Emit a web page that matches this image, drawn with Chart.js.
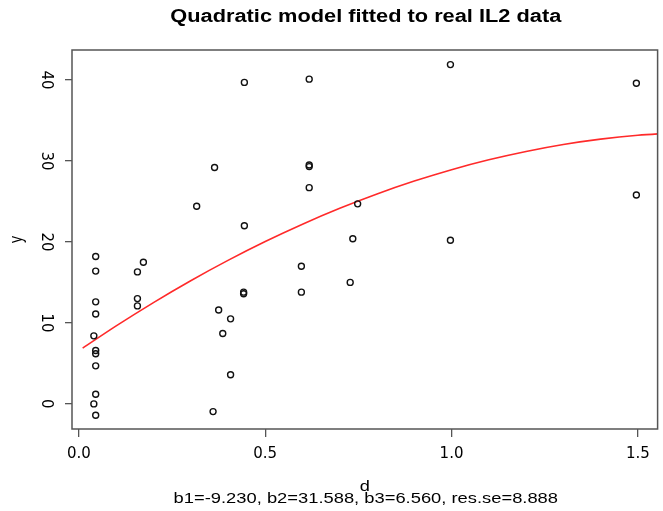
<!DOCTYPE html>
<html>
<head>
<meta charset="utf-8">
<script src="https://cdn.jsdelivr.net/npm/chart.js@4.4.1/dist/chart.umd.min.js"></script>
<style>
  html, body { margin: 0; padding: 0; background: #ffffff; }
  canvas { display: block; }
</style>
</head>
<body>
<canvas id="il2Chart" width="663" height="511"></canvas>
<script>
// Data -------------------------------------------------------------------------
var doseValues = [
    0.045, 0.045, 0.045, 0.045, 0.04, 0.045, 0.045, 0.045, 0.045, 0.04, 0.045,
    0.157, 0.173, 0.157, 0.157,
    0.316, 0.36, 0.364, 0.375, 0.386, 0.407, 0.407,
    0.442, 0.442, 0.444, 0.444,
    0.597, 0.597, 0.618, 0.618, 0.618, 0.618,
    0.728, 0.735, 0.748,
    0.997, 0.997, 1.496, 1.496
];
var responseValues = [
    18.2, 16.4, 12.6, 11.1, 8.4, 6.6, 6.2, 4.7, 1.2, 0.0, -1.4,
    16.3, 17.5, 13.0, 12.1,
    24.4, -0.95, 29.2, 11.6, 8.7, 10.5, 3.6,
    13.6, 13.8, 39.7, 22.0,
    17.0, 13.8, 40.1, 29.3, 29.5, 26.7,
    15.0, 20.4, 24.7,
    41.9, 20.2, 39.6, 25.8
];
// fitted curve
var fitDose     = [0.01, 0.1, 0.2, 0.3, 0.4, 0.5, 0.6, 0.7, 0.8, 0.9, 1.0, 1.1, 1.2, 1.3, 1.4, 1.5, 1.6];
var fitResponse = [6.88, 9.63, 12.51, 15.21, 17.72, 20.05, 22.19, 24.15, 25.92, 27.51, 28.92, 30.14, 31.17, 32.03, 32.69, 33.17, 33.47];

var xTickValues = [0, 0.5, 1, 1.5];
var yTickValues = [0, 10, 20, 30, 40];

var chartTitle = 'Quadratic model fitted to real IL2 data';
var xAxisLabel = 'd';
var yAxisLabel = 'y';
var fitSummary = 'b1=-9.230, b2=31.588, b3=6.560, res.se=8.888';

// Build datasets ---------------------------------------------------------------
var scatterPoints = doseValues.map(function (d, i) { return { x: d, y: responseValues[i] }; });
var fitPoints = fitDose.map(function (d, i) { return { x: d, y: fitResponse[i] }; });

var axisGrey = '#555555';
var textFont = '"Liberation Sans", Arial, sans-serif';

// draw text stretched sideways (the original picture is wide)
function wideText(ctx, text, cx, cy, font, stretch, rotate) {
    ctx.save();
    ctx.font = font;
    ctx.fillStyle = '#000';
    ctx.textAlign = 'center';
    ctx.textBaseline = 'middle';
    ctx.translate(cx, cy);
    ctx.scale(stretch, 1);
    if (rotate) ctx.rotate(-Math.PI / 2);
    ctx.fillText(text, 0, 0);
    ctx.restore();
}

var rStylePlugin = {
    id: 'rStyle',
    afterDraw: function (chart) {
        var ctx = chart.ctx;
        var area = chart.chartArea;
        var midX = (area.left + area.right) / 2;

        // box round the plot
        ctx.save();
        ctx.strokeStyle = axisGrey;
        ctx.lineWidth = 1.5;
        ctx.strokeRect(area.left, area.top, area.right - area.left, area.bottom - area.top);
        ctx.restore();

        wideText(ctx, chartTitle, midX + 1, 17, 'bold 18px ' + textFont, 1.21);
        wideText(ctx, xAxisLabel, midX, 487, '14px ' + textFont, 1.3);
        wideText(ctx, fitSummary, midX + 1, 499, '14px ' + textFont, 1.31);
        wideText(ctx, yAxisLabel, 17, (area.top + area.bottom) / 2, '14px ' + textFont, 1.3, true);
    }
};

var il2Canvas = document.getElementById('il2Chart');

if (il2Canvas) {
    var chart = new Chart(il2Canvas, {
        type: 'scatter',
        data: {
            datasets: [{
                label: 'observed',
                data: scatterPoints,
                pointStyle: 'circle',
                pointRadius: 3,
                pointBorderWidth: 1.4,
                pointBorderColor: '#111111',
                pointBackgroundColor: 'rgba(0,0,0,0)',
                showLine: false
            }, {
                label: 'quadratic fit',
                data: fitPoints,
                showLine: true,
                pointRadius: 0,
                borderColor: '#ff2a2a',
                borderWidth: 1.6,
                cubicInterpolationMode: 'monotone',
                fill: false
            }]
        },
        options: {
            responsive: false,
            devicePixelRatio: 1,
            animation: false,
            layout: { padding: { top: 50, right: 1, left: 0, bottom: 0 } },
            plugins: {
                legend: { display: false },
                tooltip: { enabled: false },
                title: { display: false }
            },
            scales: {
                x: {
                    type: 'linear',
                    min: -0.0186,
                    max: 1.553,
                    afterBuildTicks: function (scale) {
                        scale.ticks = xTickValues.map(function (v) { return { value: v }; });
                    },
                    afterFit: function (scale) { scale.height = 82; },
                    grid: {
                        display: true,
                        drawOnChartArea: false,
                        drawTicks: true,
                        tickLength: 8,
                        color: axisGrey,
                        lineWidth: 1.3
                    },
                    border: { display: false },
                    ticks: {
                        padding: 8,
                        color: '#000',
                        maxRotation: 0,
                        autoSkip: false,
                        font: { family: '"DejaVu Sans"', size: 15 },
                        callback: function (v) { return v.toFixed(1); }
                    }
                },
                y: {
                    type: 'linear',
                    min: -3.1,
                    max: 43.7,
                    afterBuildTicks: function (scale) {
                        scale.ticks = yTickValues.map(function (v) { return { value: v }; });
                    },
                    afterFit: function (scale) { scale.width = 72; },
                    grid: {
                        display: true,
                        drawOnChartArea: false,
                        drawTicks: true,
                        tickLength: 7,
                        color: axisGrey,
                        lineWidth: 1.3
                    },
                    border: { display: false },
                    ticks: {
                        padding: 10,
                        color: '#000',
                        minRotation: -90,
                        maxRotation: -90,
                        crossAlign: 'center',
                        autoSkip: false,
                        font: { family: '"DejaVu Sans"', size: 15 }
                    }
                }
            }
        },
        plugins: [rStylePlugin]
    });
}
</script>
</body>
</html>
